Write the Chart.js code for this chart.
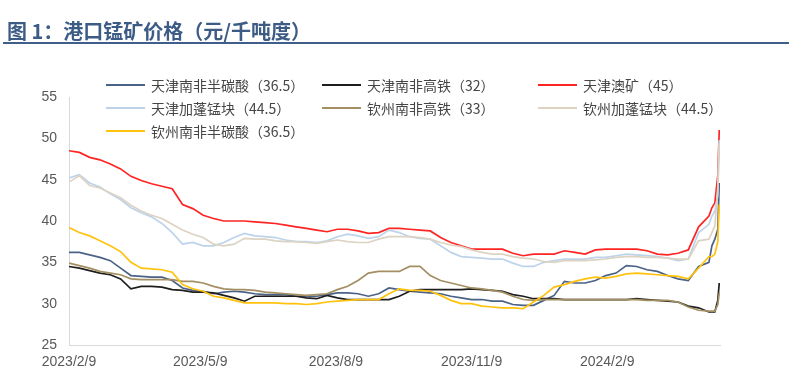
<!DOCTYPE html>
<html lang="zh">
<head>
<meta charset="utf-8">
<script src="https://cdn.jsdelivr.net/npm/chart.js@4.4.1/dist/chart.umd.min.js"></script>
<style>
  html, body { margin: 0; padding: 0; background: #fff; }
  #wrap { position: relative; width: 789px; height: 383px; overflow: hidden; font-family: "Liberation Sans", "Noto Sans CJK SC", sans-serif; }
  #chart { position: absolute; left: 0; top: 0; }
  #title { position: absolute; left: 7px; top: 16px; font: bold 20px "Noto Sans CJK SC", sans-serif; color: #3d5c85; white-space: nowrap; }
  #rule { position: absolute; left: 3px; top: 42px; width: 786px; height: 2px; background: #3f5f8a; }
  .leg { position: absolute; display: flex; align-items: center; font: 14px "Noto Sans CJK SC", "Liberation Sans", sans-serif; color: #454545; white-space: nowrap; }
  .leg i { display: inline-block; width: 39px; height: 2px; margin-right: 6px; }
</style>
</head>
<body>
<div id="wrap">
  <canvas id="chart" width="789" height="383"></canvas>
  <div id="title">图 1：港口锰矿价格（元/千吨度）</div>
  <div id="rule"></div>
  <div id="legend"></div>
</div>
<script>
"use strict";

// days since 2023/2/9 (weekly, daily at the end)
const days = [0,7,14,21,28,35,42,49,56,63,70,77,84,91,98,105,112,119,126,133,140,147,154,161,168,175,182,189,196,203,210,217,224,231,238,245,252,259,266,273,280,287,294,301,308,315,322,329,336,343,350,357,364,371,378,385,392,399,406,413,420,427,434,436,438,440,441];

const tickDays = [0, 89, 181, 273, 365];
const tickLabels = ["2023/2/9", "2023/5/9", "2023/8/9", "2023/11/9", "2024/2/9"];

const seriesLabels = [
  "天津南非半碳酸（36.5）",
  "天津南非高铁（32）",
  "天津澳矿（45）",
  "天津加蓬锰块（44.5）",
  "钦州南非高铁（33）",
  "钦州加蓬锰块（44.5）",
  "钦州南非半碳酸（36.5）"
];

const seriesColors = ["#4b6287", "#1e1e1e", "#ff2424", "#bcd3ea", "#a38f62", "#dcd3c3", "#ffc20e"];

const tjSemiCarb = [36.2,36.2,35.9,35.6,35.2,34.3,33.4,33.3,33.2,33.2,
  32.8,31.9,31.6,31.5,31.2,31.4,31.5,31.4,31.2,31.1,
  31.1,31.1,30.9,30.9,30.9,31.1,31.3,31.3,31.2,30.9,
  31.2,31.9,31.7,31.5,31.4,31.3,31.2,30.9,30.7,30.5,
  30.5,30.3,30.3,29.9,29.8,29.8,30.4,31.0,32.7,32.5,
  32.5,32.8,33.4,33.7,34.6,34.5,34.1,33.9,33.4,33.0,
  32.8,34.5,35.0,37.0,37.8,39.0,44.6];

const tjHighFe = [34.5,34.3,34.0,33.7,33.5,33.0,31.8,32.1,32.1,32.0,
  31.7,31.6,31.4,31.4,31.3,31.0,30.7,30.3,30.9,30.9,
  30.9,30.9,30.9,30.7,30.6,31.0,30.7,30.5,30.5,30.5,
  30.5,30.5,30.9,31.5,31.7,31.7,31.7,31.7,31.7,31.8,
  31.7,31.6,31.5,31.1,30.9,30.6,30.6,30.6,30.5,30.5,
  30.5,30.5,30.5,30.5,30.5,30.6,30.5,30.4,30.3,30.2,
  29.7,29.5,29.0,29.0,29.0,30.4,32.5];

const tjAus = [48.5,48.3,47.7,47.4,46.9,46.3,45.4,44.9,44.5,44.2,
  43.9,42.0,41.5,40.7,40.3,40.0,40.0,40.0,39.9,39.8,
  39.7,39.5,39.3,39.1,38.9,38.7,39.0,39.0,38.8,38.5,
  38.6,39.1,39.1,39.0,38.9,38.8,38.0,37.4,37.0,36.6,
  36.6,36.6,36.6,36.1,35.8,36.0,36.0,36.0,36.4,36.2,
  36.0,36.5,36.6,36.6,36.6,36.6,36.4,36.0,35.9,36.1,
  36.5,39.3,40.6,41.6,42.2,45.5,51.0];

const tjGabon = [45.2,45.6,44.6,44.1,43.3,42.6,41.6,41.0,40.5,39.7,
  38.6,37.2,37.4,37.0,37.0,37.4,38.0,38.5,38.2,38.1,
  38.0,37.7,37.5,37.5,37.4,37.6,38.1,38.4,38.2,37.9,
  38.1,38.9,38.6,38.1,37.9,37.8,37.0,36.2,35.7,35.6,
  35.5,35.4,35.4,34.9,34.5,34.5,35.0,35.2,35.4,35.4,
  35.4,35.6,35.6,35.8,36.0,35.9,35.8,35.7,35.5,35.2,
  35.4,38.6,39.6,40.6,41.2,43.0,49.8];

const qzHighFe = [34.9,34.6,34.3,33.9,33.7,33.5,33.0,32.9,32.9,32.9,
  32.9,32.7,32.7,32.5,32.1,31.8,31.7,31.7,31.6,31.4,
  31.3,31.2,31.1,31.0,31.1,31.2,31.7,32.1,32.8,33.7,
  33.9,33.9,33.9,34.5,34.5,33.4,32.8,32.5,32.2,31.9,
  31.8,31.6,31.4,30.9,30.5,30.4,30.5,30.5,30.5,30.5,
  30.5,30.5,30.5,30.5,30.5,30.5,30.4,30.4,30.4,30.2,
  29.6,29.2,29.1,29.1,29.1,29.9,31.3];

const qzGabon = [44.7,45.5,44.3,44.0,43.4,42.8,41.9,41.2,40.7,40.3,
  39.6,38.9,38.4,38.0,37.2,37.0,37.2,37.9,37.8,37.8,
  37.6,37.5,37.5,37.4,37.3,37.5,37.7,37.5,37.4,37.4,
  37.8,38.1,38.1,38.1,38.0,37.8,37.4,37.1,36.9,36.5,
  36.2,36.0,36.0,35.7,35.5,35.4,35.1,35.0,35.2,35.2,
  35.2,35.3,35.4,35.6,35.7,35.7,35.6,35.6,35.5,35.4,
  35.4,37.6,37.8,38.6,39.4,44.0,49.5];

const qzSemiCarb = [39.2,38.6,38.2,37.6,37.0,36.3,35.0,34.3,34.2,34.1,
  33.8,32.3,31.8,31.5,30.9,30.7,30.4,30.1,30.1,30.1,
  30.1,30.0,30.0,29.9,30.0,30.2,30.3,30.4,30.5,30.5,
  30.5,31.2,31.8,31.6,31.6,31.5,31.0,30.4,30.0,30.0,
  29.7,29.6,29.5,29.5,29.4,30.2,31.0,32.0,32.3,32.7,
  33.0,33.2,33.1,33.3,33.6,33.7,33.6,33.5,33.4,33.3,
  33.0,34.3,35.7,35.7,36.0,37.5,42.0];

const seriesValues = [tjSemiCarb, tjHighFe, tjAus, tjGabon, qzHighFe, qzGabon, qzSemiCarb];

// legend (3 columns like the original)
const legendCols = [106, 322, 538];
const legendRows = [85, 108, 131];
const legendEl = document.getElementById("legend");
legendEl.innerHTML = seriesLabels.map((label, i) => {
  const left = legendCols[i % 3];
  const top = legendRows[Math.floor(i / 3)] - 10;
  return `<div class="leg" style="left:${left}px;top:${top}px;height:20px"><i style="background:${seriesColors[i]}"></i>${label}</div>`;
}).join("");

const tickFont = { family: "'Liberation Sans', Arial, sans-serif", size: 14 };

new Chart(document.getElementById("chart").getContext("2d"), {
  type: "line",
  data: {
    datasets: seriesLabels.map((label, i) => ({
      label,
      data: days.map((d, j) => ({ x: d, y: seriesValues[i][j] })),
      borderColor: seriesColors[i],
      backgroundColor: seriesColors[i],
      borderWidth: 1.7,
      pointRadius: 0,
      tension: 0,
      fill: false,
      order: seriesLabels.length - i
    }))
  },
  options: {
    responsive: false,
    animation: false,
    layout: { padding: { top: 97, right: 69, left: 0, bottom: 0 } },
    plugins: {
      legend: { display: false },
      tooltip: { enabled: false }
    },
    scales: {
      x: {
        type: "linear",
        min: 0,
        max: 441.5,
        grid: { display: false, drawTicks: false },
        border: { color: "#d9d9d9", width: 1 },
        afterBuildTicks: (scale) => {
          scale.ticks = tickDays.map(v => ({ value: v }));
        },
        afterFit: (scale) => { scale.height = 38; },
        ticks: {
          autoSkip: false,
          maxRotation: 0,
          padding: 9,
          color: "#595959",
          font: tickFont,
          callback: (value, index) => tickLabels[index]
        }
      },
      y: {
        min: 25,
        max: 55,
        grid: { display: false, drawTicks: false },
        border: { color: "#d9d9d9", width: 1 },
        afterFit: (scale) => { scale.width = 69; },
        ticks: {
          stepSize: 5,
          padding: 12,
          color: "#595959",
          font: tickFont
        }
      }
    }
  }
});
</script>
</body>
</html>
